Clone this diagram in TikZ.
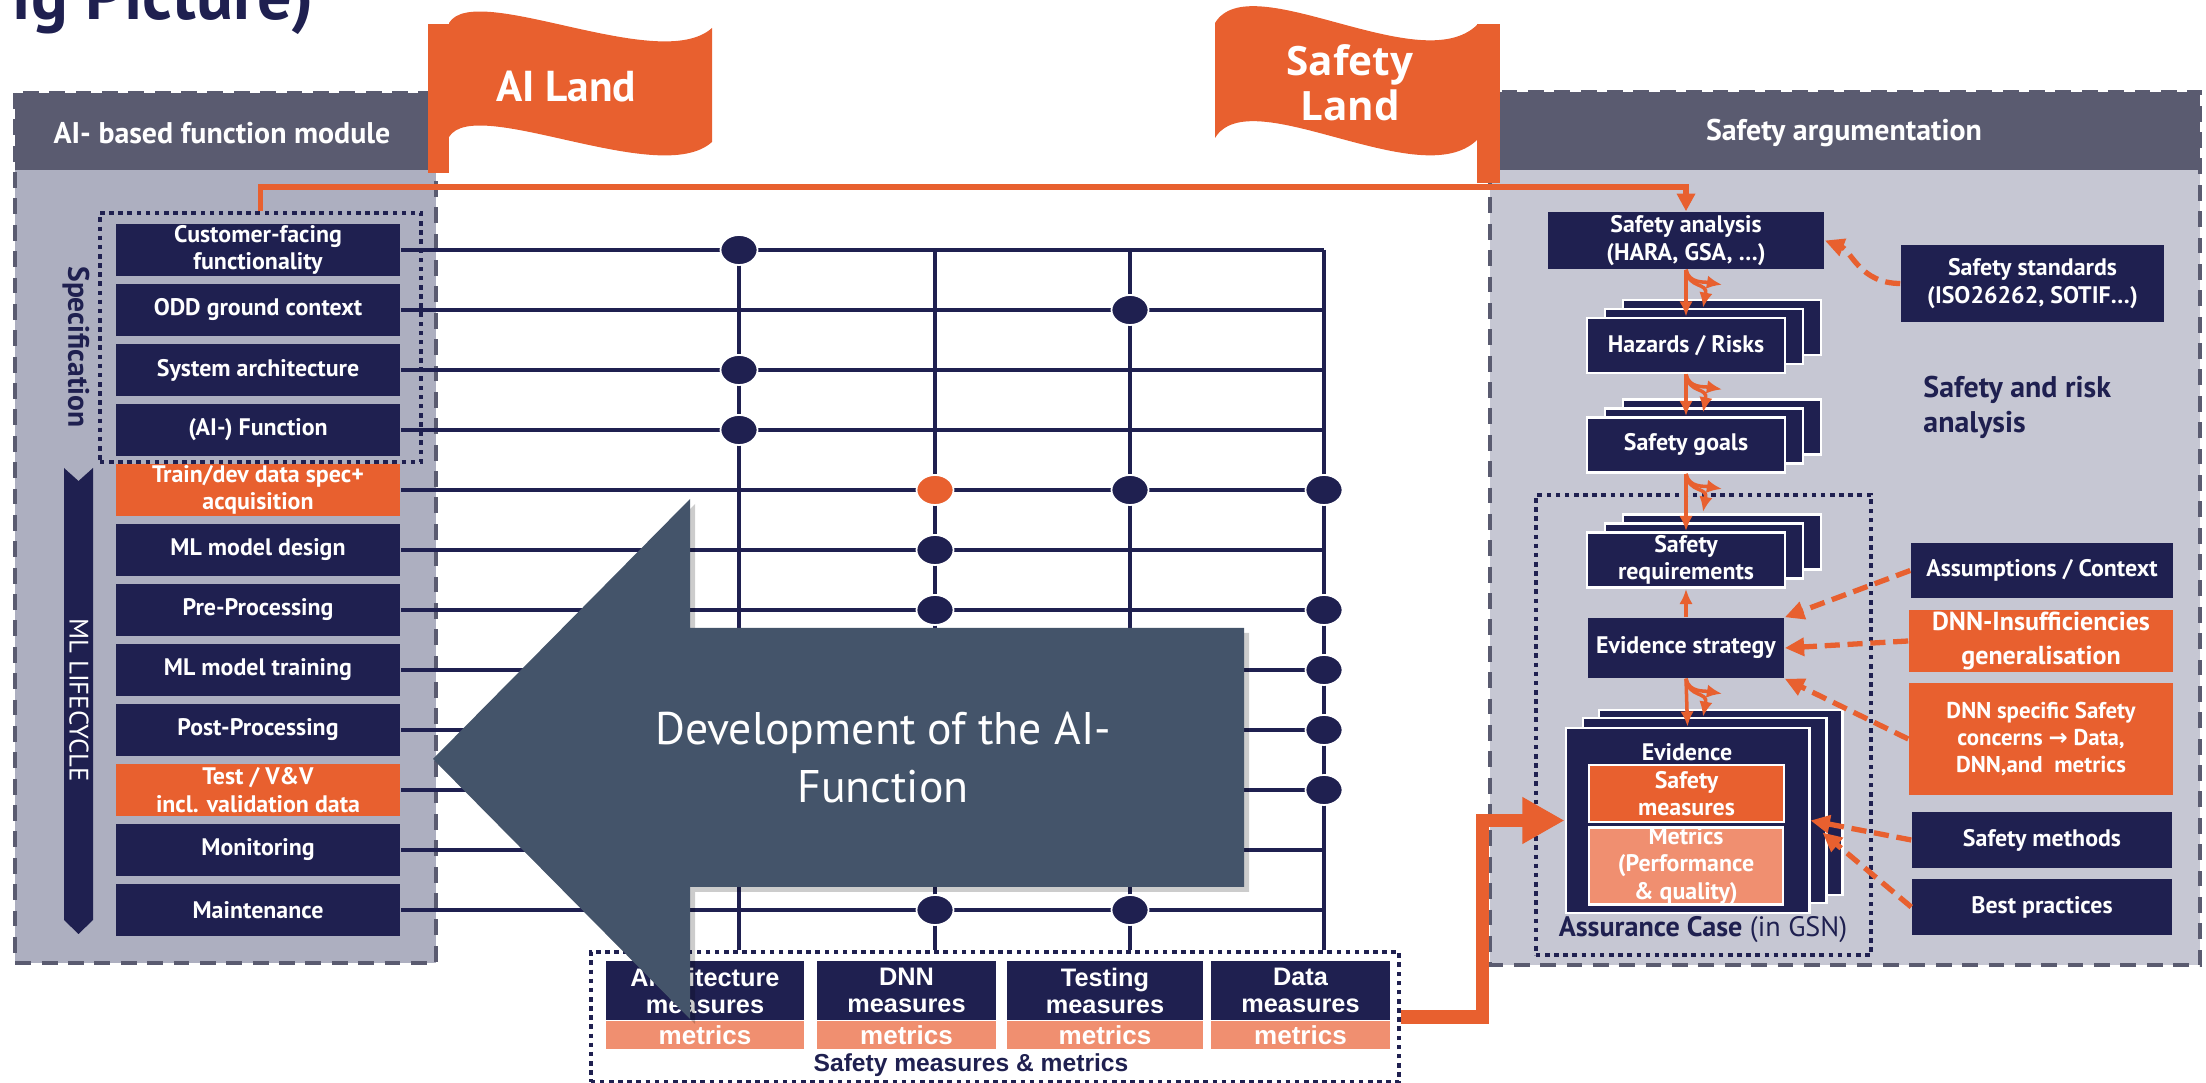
\documentclass[tikz,border=0pt]{standalone}
\usepackage{fontspec}
\setmainfont{PT Sans}
\newfontfamily\flagfont{Open Sans}
\newfontfamily\arialfont{Liberation Sans}
\newfontfamily\symfont{DejaVu Sans}
\usetikzlibrary{arrows,arrows.meta,positioning,calc,shapes.geometric}
\definecolor{navy}{HTML}{1F2050}
\definecolor{slate}{HTML}{44546A}
\definecolor{hdrgray}{HTML}{5A5B70}
\definecolor{lpanel}{HTML}{ADAFC0}
\definecolor{rpanel}{HTML}{C6C7D3}
\definecolor{aiorange}{HTML}{E8602F}
\definecolor{salmon}{HTML}{F08F70}

\begin{document}
\begin{tikzpicture}[x=0.01cm,y=-0.01cm,>=latex',every node/.append style={align=center},
  lbox/.style={fill=navy, text=white, font=\fontsize{6.8}{7.8}\selectfont\bfseries, minimum width=2.84cm, minimum height=0.52cm, inner sep=0pt},
  rbox/.style={fill=navy, text=white, font=\fontsize{6.8}{7.8}\selectfont\bfseries, inner sep=0pt},
  stk/.style={rbox, draw=white, line width=0.8pt, minimum width=1.98cm, minimum height=0.55cm},
  mbox/.style={fill=navy, text=white, font=\arialfont\fontsize{7.2}{7.7}\selectfont\bfseries, minimum height=0.59cm, inner sep=0pt},
  mtr/.style={fill=salmon, text=white, font=\arialfont\fontsize{7.4}{8}\selectfont\bfseries, minimum height=0.28cm, inner sep=0pt},
  dot/.style={ellipse, fill=navy, draw=white, line width=0.5pt, minimum width=0.37cm, minimum height=0.30cm, inner sep=0pt},
  gridline/.style={navy, line width=1.4pt},
  dotbox/.style={draw=navy, line width=1.1pt, dash pattern=on 1.3pt off 1.3pt, inner sep=0pt},
  panelborder/.style={draw=hdrgray, line width=1.3pt, dash pattern=on 4.5pt off 3pt},
  hdr/.style={text=white, font=\fontsize{8.5}{9}\selectfont\bfseries},
  fanarr/.style={draw=aiorange, line width=1pt, -{Latex[length=4.3pt,width=3.8pt]}},
  dasharr/.style={draw=aiorange, line width=1.5pt, dash pattern=on 4.3pt off 2.2pt, -{Triangle[length=5.5pt,width=5pt]}}]
    \useasboundingbox (0,0) rectangle (2206,1083);
    \node[anchor=base west, text=navy, font=\fontsize{19.5}{20}\selectfont\bfseries, inner sep=0pt] (title) at (12,20) {ig Picture)};

    \fill[lpanel] (15,170) rectangle (436,963);
    \fill[hdrgray] (15,93) rectangle (436,170);
    \draw[panelborder] (15,93) rectangle (436,963);
    \node[hdr] (lhdr) at (222,133) {AI- based function module};
    \fill[rpanel] (1490,170) rectangle (2200,965);
    \fill[hdrgray] (1490,92) rectangle (2200,170);
    \draw[panelborder] (1490,92) rectangle (2200,965);
    \node[hdr] (rhdr) at (1844,133) {Safety argumentation};

    \fill[aiorange] (428,24) rectangle (449,173);
    \fill[aiorange] (449,23) .. controls (475,-20) and (660,75) .. (712,28) -- (712,142) .. controls (660,189) and (475,94) .. (449,137) -- cycle;
    \node[text=white, font=\fontsize{12.3}{13}\selectfont\bfseries] (ailand) at (566,87) {AI Land};
    \fill[aiorange] (1477,24) rectangle (1500,183);
    \fill[aiorange] (1477,25) .. controls (1420,80) and (1250,-35) .. (1215,23) -- (1215,138) .. controls (1250,80) and (1420,195) .. (1477,140) -- cycle;
    \node[text=white, font=\flagfont\fontsize{11.5}{12.8}\selectfont\bfseries] (safeland) at (1350,83) {Safety\\Land};

    \node[dotbox, minimum width=3.21cm, minimum height=2.49cm] (spec) at (260.5,337.5) {};
    \node[rotate=-90, text=navy, font=\fontsize{8.4}{9}\selectfont\bfseries] (spectxt) at (76,347) {Specification};
    \fill[navy] (64,468) -- (78.5,481) -- (93,468) -- (93,920) -- (78.5,934) -- (64,920) -- cycle;
    \node[rotate=-90, text=white, font=\fontsize{7.6}{8}\selectfont] (mlcyc) at (79,700) {ML LIFECYCLE};
    \foreach \nm/\col/\txt [count=\i from 0] in {cust/navy/{Customer-facing\\functionality}, odd/navy/{ODD ground context}, sysarch/navy/{System architecture}, aifun/navy/{(AI-) Function}, data/aiorange/{Train/dev data spec+\\acquisition}, design/navy/{ML model design}, pre/navy/{Pre-Processing}, train/navy/{ML model training}, post/navy/{Post-Processing}, test/aiorange/{Test / V\&V\\incl. validation data}, mon/navy/{Monitoring}, maint/navy/{Maintenance}}
        \node[lbox, fill=\col] (\nm) at (258,{250+60*\i}) {\txt};

    \node[dotbox, minimum width=8.08cm, minimum height=1.30cm] (msbox) at (995,1017) {};
    \foreach \c/\x in {1/739,2/935,3/1130,4/1324}
        \coordinate (col\c) at (\x,250);
    \foreach \c in {1,...,4}
        \draw[gridline] (col\c) -- (col\c |- msbox.north);
    \foreach \nm in {cust,odd,sysarch,aifun,data,design,pre,train,post,test,mon,maint}
        \draw[gridline] (\nm.east) -- (\nm.east -| col4);
    \foreach \c/\r/\col [count=\k] in {1/0/navy, 3/1/navy, 1/2/navy, 1/3/navy, 2/4/aiorange, 3/4/navy, 4/4/navy, 2/5/navy, 2/6/navy, 4/6/navy, 4/7/navy, 4/8/navy, 4/9/navy, 2/11/navy, 3/11/navy}
        \path (col\c) ++(0,{60*\r}) node[dot, fill=\col] (dot\k) {};

    \foreach \nm/\x/\w/\txt in {arch/705/1.98/{Architecture\\measures}, dnn/906.5/1.79/{DNN\\measures}, tst/1105/1.96/{Testing\\measures}, dat/1300.5/1.79/{Data\\measures}} {
        \node[mbox, minimum width=\w cm] (\nm) at (\x,990.5) {\txt};
        \node[mtr, minimum width=\w cm, below=0pt of \nm] (\nm-m) {metrics};
    }
    \node[text=navy, font=\arialfont\fontsize{7}{8}\selectfont\bfseries] (mslbl) at (971,1065) {Safety measures \& metrics};

    \fill[black, opacity=0.2] (438,764) -- (695,504) -- (695,633) -- (1249,633) -- (1249,892) -- (695,892) -- (695,1024) -- cycle;
    \fill[slate] (433,759) -- (690,499) -- (690,628) -- (1244,628) -- (1244,887) -- (690,887) -- (690,1019) -- cycle;
    \node[text=white, font=\fontsize{13}{16.5}\selectfont] (dev) at (883,758) {Development of the AI-\\Function};

    \node[rbox, minimum width=2.76cm, minimum height=0.57cm] (sa) at (1686,240.5) {Safety analysis\\(HARA, GSA, …)};
    \node[rbox, minimum width=2.63cm, minimum height=0.77cm] (ss) at (2032.5,283.5) {Safety standards\\(ISO26262, SOTIF…)};
    \draw[aiorange, line width=1.6pt, -{Triangle[length=5pt,width=5pt]}] (spec.north) -- ++(0,-24) -| (sa.north);
    \foreach \nm/\y/\txt in {hz/345.5/{Hazards / Risks}, sg/445/{Safety goals}, sr/560/{Safety\\requirements}} {
        \node[stk] (\nm3) at (1722,{\y-18}) {};
        \node[stk] (\nm2) at (1704,{\y-9}) {};
        \node[stk] (\nm) at (1686,\y) {\txt};
    }
    \node[anchor=west, align=left, text=navy, font=\fontsize{8.5}{10}\selectfont\bfseries] (sra) at (1911,407) {Safety and risk\\analysis};
    \node[dotbox, minimum width=3.35cm, minimum height=4.60cm] (acase) at (1703.5,725) {};
    \node[rbox, minimum width=1.96cm, minimum height=0.60cm] (es) at (1686,648) {Evidence strategy};
    \node[stk, minimum width=2.43cm, minimum height=1.85cm] (ev3) at (1720.5,802.5) {};
    \node[stk, minimum width=2.43cm, minimum height=1.85cm] (ev2) at (1704.5,810.5) {};
    \node[stk, minimum width=2.43cm, minimum height=1.85cm] (ev) at (1687.5,820.5) {};
    \node[rbox] (evlbl) at (1687,752) {Evidence};
    \node[rbox, fill=aiorange, draw=white, line width=0.8pt, minimum width=1.95cm, minimum height=0.57cm] (smeas) at (1686.5,793.5) {Safety\\measures};
    \node[rbox, fill=salmon, draw=white, line width=0.8pt, minimum width=1.94cm, minimum height=0.76cm] (metr) at (1686,866) {Metrics\\(Performance\\\& quality)};
    \node[text=navy, font=\fontsize{8}{9}\selectfont] (aclbl) at (1703,930) {\textbf{Assurance Case} (in GSN)};

    \node[rbox, minimum width=2.62cm, minimum height=0.55cm] (asm) at (2042,570.5) {Assumptions / Context};
    \node[rbox, fill=aiorange, minimum width=2.64cm, minimum height=0.62cm, font=\fontsize{7.4}{9.4}\selectfont\bfseries] (dnni) at (2041,641) {DNN-Insufficiencies\\generalisation};
    \node[rbox, fill=aiorange, minimum width=2.64cm, minimum height=1.12cm, font=\fontsize{6.5}{7.7}\selectfont\bfseries] (dnns) at (2041,739) {DNN specific Safety\\concerns {\symfont\bfseries →} Data,\\DNN,and\ \ metrics};
    \node[rbox, minimum width=2.60cm, minimum height=0.56cm] (smeth) at (2042,840) {Safety methods};
    \node[rbox, minimum width=2.60cm, minimum height=0.56cm] (bp) at (2042,907) {Best practices};

    \foreach \a/\b in {sa/hz, hz/sg, sg/sr, es/ev} {
        \draw[fanarr] (\a.south) -- (\b.north);
        \draw[fanarr] (\a.south) .. controls ($(\a.south)+(3,20)$) and ($(\a.south)+(22,12)$) .. ($(\a.south)+(17,38)$);
        \draw[fanarr] (\a.south) .. controls ($(\a.south)+(3,14)$) and ($(\a.south)+(18,12)$) .. ($(\a.south)+(36,15)$);
    }
    \draw[fanarr] (es.north) -- (sr.south);
    \draw[dasharr] (ss.west) .. controls ($(ss.west)+(-40,0)$) and ($(sa.east)+(26,10)$) .. (sa.east);
    \draw[dasharr] (asm.west) -- (es.north east);
    \draw[dasharr] (dnni.west) -- (es.east);
    \draw[dasharr] (dnns.west) -- (es.south east);
    \draw[dasharr] (smeth.west) -- (ev.east);
    \draw[dasharr] (bp.west) -- ($(ev.east)+(12,12)$);
    \draw[aiorange, line width=3.7pt, -{Triangle[length=12pt,width=12.5pt]}] (msbox.east) -| ($(ev.west)+(-82,0)$) -- (ev.west);
\end{tikzpicture}
\end{document}
